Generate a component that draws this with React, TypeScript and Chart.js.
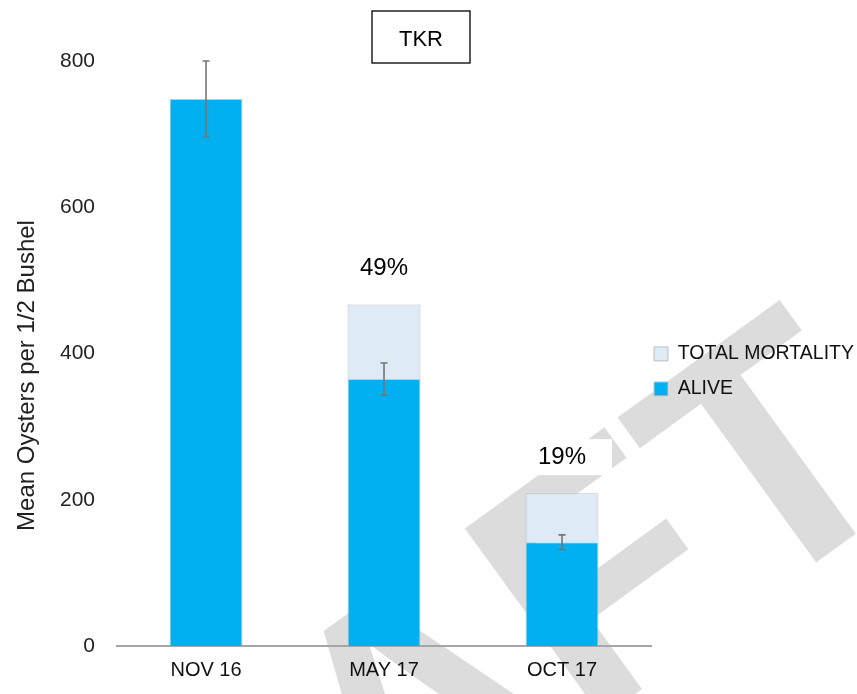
import { useEffect, useRef } from 'react';
import { Chart, registerables } from 'chart.js';

Chart.register(...registerables);

// ---- data ----
const categories = ['NOV 16', 'MAY 17', 'OCT 17'];
const aliveValues = [748, 365, 142];
const mortalityValues = [null, 102, 67];
const aliveErrors = [52, 22, 10];
const mortalityLabels = ['', '49%', '19%'];
const yTicks = [0, 200, 400, 600, 800];
const seriesNames = ['ALIVE', 'TOTAL MORTALITY'];
const chartTitle = 'TKR';
const yAxisTitle = 'Mean Oysters per 1/2 Bushel';
const watermarkText = 'DRAFT';

const FAMILY = '"Liberation Sans", Arial, sans-serif';
const ALIVE_COLOR = '#00B0F0';
const MORT_COLOR = '#DEEBF7';

const watermarkPlugin = {
  id: 'watermark',
  beforeDraw(chart: any) {
    const ctx = chart.ctx;
    ctx.save();
    ctx.translate(920, 487);
    ctx.rotate((-36 * Math.PI) / 180);
    ctx.font = `bold 340px ${FAMILY}`;
    ctx.fillStyle = '#dcdcdc';
    ctx.textAlign = 'right';
    ctx.textBaseline = 'alphabetic';
    ctx.fillText(watermarkText, 0, 0);
    ctx.restore();
  },
};

const errorBarPlugin = {
  id: 'errorBars',
  afterDatasetsDraw(chart: any) {
    const ctx = chart.ctx;
    const meta = chart.getDatasetMeta(0);
    const y = chart.scales.y;
    ctx.save();
    ctx.strokeStyle = '#767676';
    ctx.lineWidth = 1.6;
    meta.data.forEach((bar: any, i: number) => {
      const err = aliveErrors[i];
      if (err == null) return;
      const yHi = y.getPixelForValue(aliveValues[i] + err);
      const yLo = y.getPixelForValue(aliveValues[i] - err);
      const x = bar.x;
      ctx.beginPath();
      ctx.moveTo(x, yHi);
      ctx.lineTo(x, yLo);
      ctx.moveTo(x - 3.5, yHi);
      ctx.lineTo(x + 3.5, yHi);
      ctx.moveTo(x - 3.5, yLo);
      ctx.lineTo(x + 3.5, yLo);
      ctx.stroke();
    });
    ctx.restore();
  },
};

const pctLabelPlugin = {
  id: 'pctLabels',
  afterDatasetsDraw(chart: any) {
    const ctx = chart.ctx;
    const meta = chart.getDatasetMeta(1);
    ctx.save();
    ctx.font = `24px ${FAMILY}`;
    ctx.textAlign = 'center';
    ctx.textBaseline = 'middle';
    meta.data.forEach((bar: any, i: number) => {
      const label = mortalityLabels[i];
      if (!label || mortalityValues[i] == null) return;
      const cy = bar.y - 36;
      const w = ctx.measureText(label).width + 52;
      ctx.fillStyle = '#ffffff';
      ctx.fillRect(bar.x - w / 2, cy - 18, w, 36);
      ctx.fillStyle = '#000000';
      ctx.fillText(label, bar.x, cy);
    });
    ctx.restore();
  },
};

const decorPlugin = {
  id: 'decor',
  afterDraw(chart: any) {
    const ctx = chart.ctx;
    const area = chart.chartArea;
    // y axis title
    ctx.save();
    ctx.font = `24px ${FAMILY}`;
    ctx.fillStyle = '#222222';
    ctx.textAlign = 'center';
    ctx.textBaseline = 'middle';
    ctx.translate(27, (area.top + area.bottom) / 2 + 22);
    ctx.rotate(-Math.PI / 2);
    ctx.fillText(yAxisTitle, 0, 0);
    ctx.restore();
    // boxed chart title
    ctx.save();
    ctx.font = `22px ${FAMILY}`;
    ctx.textAlign = 'center';
    ctx.textBaseline = 'middle';
    const cx = (chart.width - 15) / 2;
    const w = ctx.measureText(chartTitle).width + 54;
    ctx.fillStyle = '#ffffff';
    ctx.fillRect(cx - w / 2, 11, w, 52);
    ctx.strokeStyle = '#000000';
    ctx.lineWidth = 1.3;
    ctx.strokeRect(cx - w / 2, 11, w, 52);
    ctx.fillStyle = '#000000';
    ctx.fillText(chartTitle, cx, 40);
    ctx.restore();
  },
};

export default function App() {
  const ref = useRef<HTMLCanvasElement | null>(null);

  useEffect(() => {
    document.body.style.margin = '0';
    const canvas = ref.current;
    if (!canvas) return;
    const chart = new Chart(canvas, {
      type: 'bar',
      data: {
        labels: categories,
        datasets: [
          {
            label: seriesNames[0],
            data: aliveValues,
            backgroundColor: ALIVE_COLOR,
            borderColor: '#c8c8c8',
            borderWidth: 1,
            barPercentage: 0.41,
            categoryPercentage: 1,
          },
          {
            label: seriesNames[1],
            data: mortalityValues,
            backgroundColor: MORT_COLOR,
            borderColor: '#bfbfbf',
            borderWidth: 1,
            barPercentage: 0.41,
            categoryPercentage: 1,
          },
        ],
      },
      options: {
        animation: false,
        responsive: false,
        devicePixelRatio: 1,
        layout: { padding: { left: 38, right: 0, top: 61, bottom: 0 } },
        plugins: {
          tooltip: { enabled: false },
          title: { display: false },
          legend: {
            position: 'right',
            align: 'start',
            reverse: true,
            maxWidth: 206,
            title: {
              display: true,
              text: ' ',
              font: { size: 1 },
              padding: { top: 279, bottom: 0 },
            },
            labels: {
              boxWidth: 14,
              boxHeight: 14,
              padding: 3,
              color: '#111111',
              font: { family: FAMILY, size: 19.5, lineHeight: '32px' },
              generateLabels: (c: any) =>
                Chart.defaults.plugins.legend.labels
                  .generateLabels(c)
                  .map((l: any) => ({ ...l, text: [l.text], lineWidth: 1 })),
            },
          },
        },
        scales: {
          x: {
            stacked: true,
            grid: { display: false, drawTicks: false },
            border: { display: true, color: '#a6a6a6', width: 2 },
            ticks: {
              color: '#111111',
              font: { family: FAMILY, size: 20 },
              padding: 12,
            },
          },
          y: {
            stacked: true,
            min: 0,
            max: 800,
            grid: { display: false, drawTicks: false },
            border: { display: false },
            afterBuildTicks: (scale: any) => {
              scale.ticks = yTicks.map((v) => ({ value: v }));
            },
            ticks: {
              color: '#222222',
              font: { family: FAMILY, size: 21 },
              padding: 22,
            },
          },
        },
      },
      plugins: [watermarkPlugin, errorBarPlugin, pctLabelPlugin, decorPlugin],
    } as any);
    return () => chart.destroy();
  }, []);

  return (
    <div style={{ position: 'absolute', left: 0, top: 0, width: 857, height: 694 }}>
      <canvas ref={ref} width={857} height={694} style={{ display: 'block' }} />
    </div>
  );
}
